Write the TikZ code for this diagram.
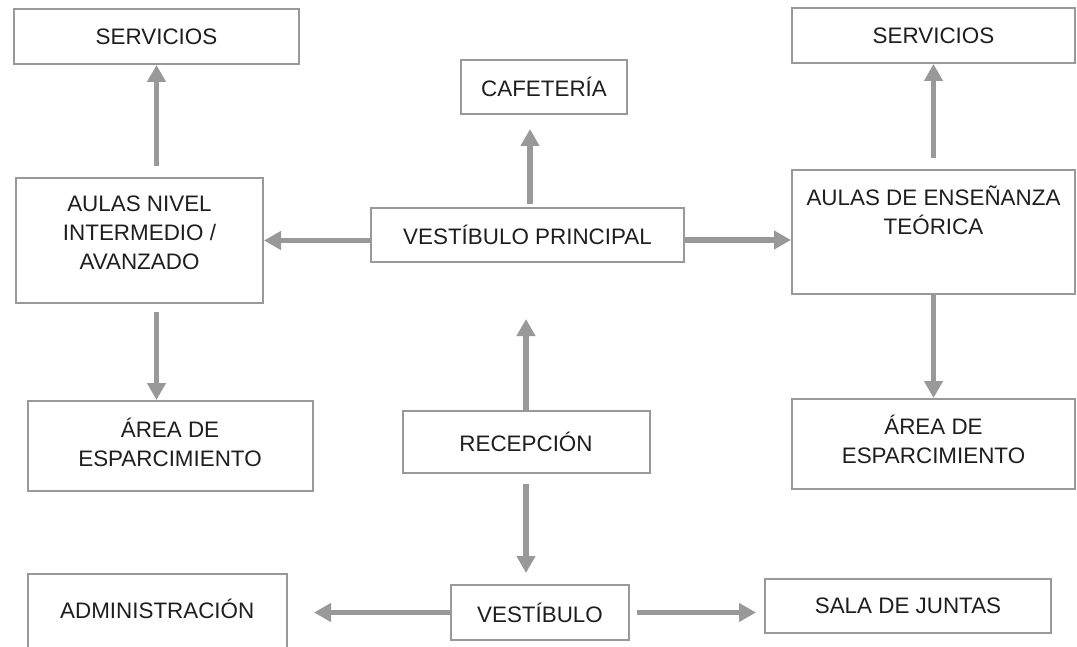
\documentclass[tikz,border=0pt]{standalone}
\usepackage{fontspec}
\setmainfont{Liberation Sans}
\usetikzlibrary{arrows.meta,calc}
\definecolor{boxgray}{HTML}{999999}
\definecolor{inkgray}{HTML}{1E1E1E}

\begin{document}
\begin{tikzpicture} [x = 1pt, y = -1pt,
	room/.style = {draw = boxgray, line width = 2pt, inner sep = 0pt},
	roomtext/.style = {text = inkgray, align = center, inner sep = 0pt, font = \fontsize{22.4}{29}\selectfont},
	flow/.style = {draw = boxgray, line width = 5.5pt, -{Triangle[length = 17pt, width = 18pt]}}]
	\useasboundingbox (0,0) rectangle (1077,647);
	\node [room, roomtext, minimum width = 285pt, minimum height = 55pt] (servL) at (156.5,36.5) {SERVICIOS};
	\node [room, roomtext, minimum width = 166pt, minimum height = 54pt] (cafe) at (544,87) {CAFETERÍA};
	\node [room, roomtext, minimum width = 283pt, minimum height = 55pt] (servR) at (933.5,35.5) {SERVICIOS};
	\node [room, minimum width = 247pt, minimum height = 125pt] (aulasL) at (139.5,240.5) {};
	\node [roomtext] (aulasLtext) at ([yshift = 7.5pt]aulasL.center) {AULAS NIVEL\\INTERMEDIO /\\AVANZADO};
	\node [room, roomtext, minimum width = 313pt, minimum height = 54pt] (vp) at (527.5,235) {VESTÍBULO PRINCIPAL};
	\node [room, minimum width = 283pt, minimum height = 124pt] (aulasR) at (933.5,232) {};
	\node [roomtext] (aulasRtext) at ([yshift = 21.5pt]aulasR.center) {AULAS DE ENSEÑANZA\\TEÓRICA};
	\node [room, minimum width = 285pt, minimum height = 90pt] (areaL) at (170,446) {};
	\node [roomtext] (areaLtext) at ([yshift = 4pt]areaL.center) {ÁREA DE\\ESPARCIMIENTO};
	\node [room, roomtext, minimum width = 247pt, minimum height = 62pt] (recep) at (526,442) {RECEPCIÓN};
	\node [room, minimum width = 283pt, minimum height = 90pt] (areaR) at (933.5,444) {};
	\node [roomtext] (areaRtext) at ([yshift = 4.5pt]areaR.center) {ÁREA DE\\ESPARCIMIENTO};
	\node [room, minimum width = 259.5pt, minimum height = 91pt] (admin) at (157.25,619.5) {};
	\node [roomtext] (admintext) at ([yshift = 10.5pt]admin.center) {ADMINISTRACIÓN};
	\node [room, roomtext, minimum width = 178pt, minimum height = 55pt] (vest) at (540,612.5) {VESTÍBULO};
	\node [room, roomtext, minimum width = 286pt, minimum height = 54pt] (sala) at (908,606) {SALA DE JUNTAS};
	\draw [flow] ($(servL.south |- aulasL.north) + (0,-11)$) -- (servL.south);
	\draw [flow] (vp.west |- aulasL.east) -- (aulasL.east);
	\draw [flow] ($(vp.north) + (2.5,-3)$) -- ($(cafe.south -| vp.north) + (2.5,14)$);
	\draw [flow] ($(vp.east) + (0,5)$) -- ($(aulasR.west |- vp.east) + (0,5)$);
	\draw [flow] ($(aulasR.north) + (0,-11)$) -- (servR.south);
	\draw [flow] (aulasR.south) -- (areaR.north);
	\draw [flow] ($(servL.south |- aulasL.south) + (0,8)$) -- (servL.south |- areaL.north);
	\draw [flow] (recep.north) -- ($(recep.north |- vp.south) + (0,56)$);
	\draw [flow] ($(recep.south) + (0,10)$) -- ($(recep.south |- vest.north) + (0,-11)$);
	\draw [flow] (vest.west) -- ($(admin.east |- vest.west) + (26,0)$);
	\draw [flow] ($(vest.east) + (7,0)$) -- ($(sala.west |- vest.east) + (-8,0)$);
\end{tikzpicture}
\end{document}
